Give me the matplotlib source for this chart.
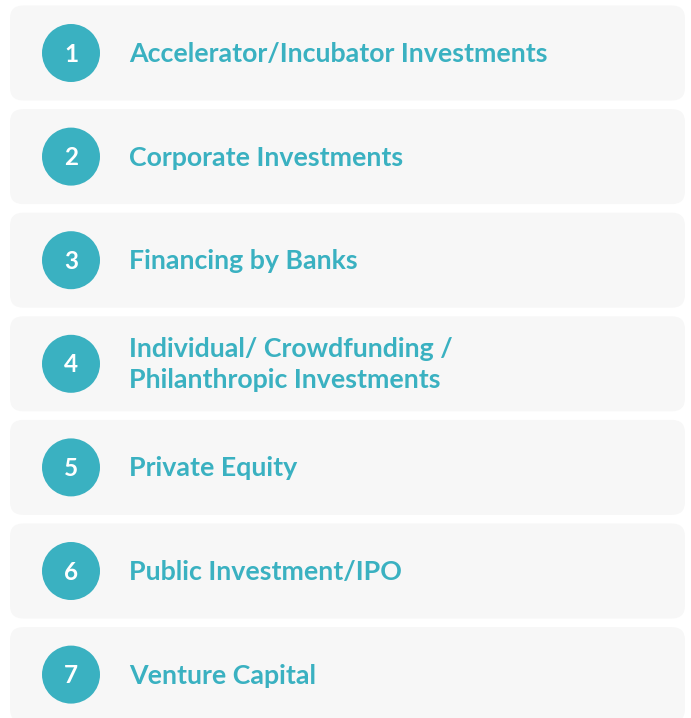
import matplotlib
matplotlib.use("Agg")
import matplotlib.pyplot as plt
from matplotlib.patches import FancyBboxPatch, Circle

numbers = ["1", "2", "3", "4", "5", "6", "7"]
labels = [
    "Accelerator/Incubator Investments",
    "Corporate Investments",
    "Financing by Banks",
    "Individual/ Crowdfunding /\nPhilanthropic Investments",
    "Private Equity",
    "Public Investment/IPO",
    "Venture Capital",
]

W, H = 691, 718
fig = plt.figure(figsize=(W / 100, H / 100), dpi=100)
ax = fig.add_axes([0, 0, 1, 1])
ax.set_xlim(0, W)
ax.set_ylim(H, 0)
ax.axis("off")

teal = "#3AB1C1"
box_color = "#F7F7F7"
top0, pitch, box_h = 5.5, 103.6, 95
box_x0, box_x1 = 10, 685

for i, (num, lab) in enumerate(zip(numbers, labels)):
    top = top0 + i * pitch
    cy = top + box_h / 2
    box = FancyBboxPatch((box_x0, top), box_x1 - box_x0, box_h,
                         boxstyle="round,pad=0,rounding_size=13",
                         facecolor=box_color, edgecolor="none")
    ax.add_patch(box)
    ax.add_patch(Circle((71, cy), 29, facecolor=teal, edgecolor="none"))
    ax.text(71, cy + 1, num, ha="center", va="center", color="white",
            fontsize=17.5, fontweight="bold", family="Lato")
    ax.text(129, cy + 1, lab, ha="left", va="center", color=teal,
            fontsize=19.25, fontweight="bold", family="Lato", linespacing=1.33)

fig.savefig("out.png", dpi=100)
